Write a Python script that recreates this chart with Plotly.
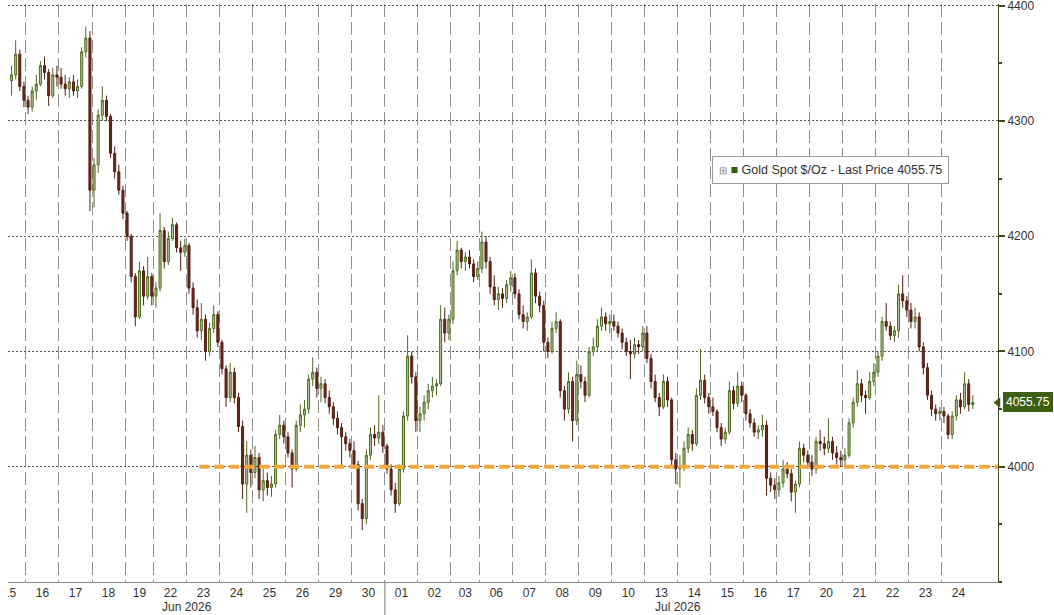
import plotly.graph_objects as go

# ---------------- data (3-hour candles, Gold Spot $/Oz) ----------------
DAY_LABELS = ["15", "16", "17", "18", "19", "22", "23", "24", "25", "26", "29", "30",
              "01", "02", "03", "06", "07", "08", "09", "10",
              "13", "14", "15", "16", "17", "20", "21", "22", "23", "24"]
DAY_BARS = [4, 8, 8, 8, 7, 8, 8, 8, 8, 8, 8, 8,
            8, 8, 7, 8, 8, 8, 8, 8,
            8, 8, 8, 8, 8, 8, 8, 8, 8, 8]
FULL_DAY_BARS = 8
MONTH_LABELS = ["Jun 2026", "Jul 2026"]
MONTH_LABEL_DAY = [6, 21]          # label sits at the start of this day (Jun 23, Jul 14)
MONTH_SPLIT_DAY = 12               # first day of July

OPEN = [
    4335, 4340, 4358, 4330,
    4318, 4312, 4326, 4332, 4348, 4342, 4322, 4340,
    4338, 4332, 4328, 4334, 4326, 4330, 4360, 4372,
    4240, 4262, 4305, 4318, 4304, 4272, 4256, 4240,
    4220, 4200, 4165, 4130, 4170, 4148, 4165,
    4148, 4155, 4205, 4178, 4198, 4210, 4190, 4186,
    4192, 4155, 4138, 4118, 4128, 4100, 4120, 4132,
    4108, 4085, 4060, 4082, 4060, 4035, 3985, 4010,
    3995, 4008, 3980, 3988, 3982, 3985, 4028, 4036,
    4026, 4012, 3998, 4036, 4045, 4050, 4076, 4082,
    4068, 4072, 4060, 4052, 4042, 4034, 4026, 4020,
    4014, 4002, 3968, 3955, 4010, 4028, 4025, 4030,
    4018, 3998, 3980, 3968, 3998, 4044, 4096, 4078,
    4040, 4046, 4056, 4066, 4070, 4072, 4128, 4116,
    4128, 4170, 4188, 4178, 4182, 4176, 4165,
    4172, 4195, 4178, 4156, 4145, 4150, 4146, 4158,
    4164, 4150, 4132, 4126, 4130, 4168, 4148, 4140,
    4108, 4100, 4120, 4126, 4066, 4050, 4074, 4040,
    4080, 4074, 4062, 4100, 4104, 4122, 4130, 4124,
    4126, 4122, 4116, 4108, 4100, 4098, 4106, 4104,
    4116, 4094, 4074, 4060, 4052, 4074, 4058, 4006,
    3998, 4000, 4016, 4028, 4020, 4062, 4075, 4060,
    4052, 4048, 4034, 4024, 4030, 4066, 4055, 4070,
    4062, 4046, 4038, 4030, 4032, 4036, 3990, 3984,
    3980, 3986, 3998, 3994, 3978, 3985, 4016, 4010,
    4004, 3998, 4022, 4020, 4016, 4022, 4012, 4008,
    4006, 4010, 4038, 4056, 4072, 4062, 4060, 4074,
    4082, 4096, 4126, 4122, 4114, 4118, 4150, 4144,
    4136, 4126, 4130, 4104, 4086, 4062, 4050, 4046,
    4048, 4044, 4028, 4044, 4058, 4052, 4072, 4054,
]
HIGH = [
    4348, 4370, 4362, 4334,
    4322, 4330, 4340, 4352, 4356, 4345, 4346, 4348,
    4346, 4340, 4338, 4340, 4336, 4364, 4382, 4378,
    4268, 4310, 4330, 4322, 4306, 4278, 4262, 4244,
    4222, 4202, 4168, 4178, 4174, 4182, 4168,
    4160, 4220, 4208, 4204, 4216, 4212, 4196, 4198,
    4194, 4160, 4145, 4142, 4132, 4125, 4140, 4135,
    4110, 4088, 4090, 4086, 4064, 4040, 4022, 4015,
    4018, 4012, 3998, 3995, 3992, 4032, 4045, 4040,
    4030, 4015, 4040, 4054, 4058, 4080, 4095, 4086,
    4078, 4076, 4066, 4056, 4048, 4038, 4030, 4024,
    4022, 4005, 3972, 4015, 4034, 4036, 4062, 4036,
    4020, 4002, 3986, 4002, 4048, 4114, 4100, 4082,
    4052, 4062, 4072, 4078, 4076, 4140, 4138, 4132,
    4178, 4196, 4190, 4186, 4188, 4180, 4178,
    4204, 4200, 4182, 4166, 4156, 4155, 4162, 4170,
    4168, 4154, 4140, 4134, 4180, 4172, 4152, 4144,
    4112, 4126, 4134, 4128, 4070, 4082, 4078, 4092,
    4088, 4078, 4104, 4112, 4128, 4138, 4134, 4132,
    4132, 4126, 4120, 4112, 4110, 4112, 4110, 4122,
    4122, 4098, 4080, 4064, 4080, 4078, 4060, 4012,
    4010, 4022, 4034, 4032, 4068, 4102, 4080, 4064,
    4060, 4050, 4038, 4034, 4074, 4070, 4082, 4074,
    4064, 4050, 4042, 4036, 4045, 4040, 3995, 3990,
    3992, 4006, 4004, 3998, 3988, 4022, 4020, 4014,
    4010, 4026, 4032, 4026, 4042, 4026, 4018, 4014,
    4016, 4042, 4060, 4084, 4076, 4066, 4082, 4090,
    4100, 4130, 4142, 4126, 4122, 4158, 4166, 4148,
    4142, 4138, 4134, 4108, 4090, 4066, 4054, 4052,
    4052, 4046, 4048, 4062, 4064, 4082, 4076, 4062,
]
LOW = [
    4322, 4336, 4326, 4312,
    4306, 4308, 4318, 4330, 4336, 4313, 4320, 4330,
    4328, 4322, 4320, 4322, 4320, 4328, 4355, 4222,
    4225, 4255, 4300, 4300, 4268, 4250, 4236, 4215,
    4196, 4160, 4122, 4128, 4140, 4145, 4140,
    4138, 4152, 4172, 4175, 4196, 4186, 4170, 4182,
    4150, 4132, 4112, 4110, 4092, 4096, 4116, 4104,
    4080, 4052, 4056, 4055, 4030, 3972, 3960, 3982,
    3990, 3972, 3970, 3975, 3974, 3982, 4024, 4020,
    4008, 3982, 3996, 4030, 4034, 4046, 4070, 4060,
    4056, 4055, 4046, 4036, 4028, 4000, 4014, 4008,
    3998, 3962, 3945, 3950, 4006, 4018, 4020, 4012,
    3994, 3975, 3960, 3966, 3995, 4040, 4072, 4030,
    4030, 4040, 4050, 4060, 4062, 4070, 4108, 4110,
    4124, 4166, 4172, 4170, 4172, 4160, 4162,
    4168, 4172, 4150, 4140, 4136, 4138, 4142, 4152,
    4146, 4128, 4120, 4118, 4128, 4142, 4134, 4100,
    4094, 4098, 4116, 4060, 4040, 4046, 4022, 4036,
    4068, 4056, 4060, 4096, 4100, 4118, 4118, 4116,
    4118, 4112, 4102, 4096, 4076, 4094, 4098, 4100,
    4090, 4068, 4056, 4044, 4050, 4052, 4000, 3985,
    3982, 3996, 4012, 4014, 4018, 4058, 4055, 4046,
    4044, 4030, 4018, 4020, 4028, 4050, 4052, 4056,
    4040, 4034, 4026, 4024, 4026, 3975, 3978, 3972,
    3974, 3982, 3990, 3970, 3960, 3982, 4004, 3998,
    3992, 3994, 4014, 4010, 4012, 4006, 4002, 4000,
    4000, 4008, 4034, 4052, 4056, 4046, 4058, 4070,
    4078, 4092, 4118, 4110, 4108, 4112, 4138, 4130,
    4120, 4120, 4100, 4080, 4058, 4044, 4040, 4040,
    4038, 4024, 4024, 4040, 4046, 4050, 4048, 4050,
]
CLOSE = [
    4340, 4358, 4330, 4318,
    4312, 4326, 4332, 4348, 4342, 4322, 4340, 4338,
    4332, 4328, 4334, 4326, 4330, 4360, 4372, 4240,
    4262, 4305, 4318, 4304, 4272, 4256, 4240, 4220,
    4200, 4165, 4130, 4170, 4148, 4165, 4148,
    4155, 4205, 4178, 4198, 4210, 4190, 4186, 4192,
    4155, 4138, 4118, 4128, 4100, 4120, 4132, 4108,
    4085, 4060, 4082, 4060, 4035, 3985, 4010, 3995,
    4008, 3980, 3988, 3982, 3985, 4028, 4036, 4026,
    4012, 3998, 4036, 4045, 4050, 4076, 4082, 4068,
    4072, 4060, 4052, 4042, 4034, 4026, 4020, 4014,
    4002, 3968, 3955, 4010, 4028, 4025, 4030, 4018,
    3998, 3980, 3968, 3998, 4044, 4096, 4078, 4040,
    4046, 4056, 4066, 4070, 4072, 4128, 4116, 4128,
    4170, 4188, 4178, 4182, 4176, 4165, 4172,
    4195, 4178, 4156, 4145, 4150, 4146, 4158, 4164,
    4150, 4132, 4126, 4130, 4168, 4148, 4140, 4108,
    4100, 4120, 4126, 4066, 4050, 4074, 4040, 4080,
    4074, 4062, 4100, 4104, 4122, 4130, 4124, 4126,
    4122, 4116, 4108, 4100, 4098, 4106, 4104, 4116,
    4094, 4074, 4060, 4052, 4074, 4058, 4006, 3998,
    4000, 4016, 4028, 4020, 4062, 4075, 4060, 4052,
    4048, 4034, 4024, 4030, 4066, 4055, 4070, 4062,
    4046, 4038, 4030, 4032, 4036, 3990, 3984, 3980,
    3986, 3998, 3994, 3978, 3985, 4016, 4010, 4004,
    3998, 4022, 4020, 4016, 4022, 4012, 4008, 4006,
    4010, 4038, 4056, 4072, 4062, 4060, 4074, 4082,
    4096, 4126, 4122, 4114, 4118, 4150, 4144, 4136,
    4126, 4130, 4104, 4086, 4062, 4050, 4046, 4048,
    4044, 4028, 4044, 4058, 4052, 4072, 4054, 4055.75,
]

SERIES_NAME = "Gold Spot $/Oz - Last Price"
SUPPORT_LEVEL = 4000
SUPPORT_FROM_BAR = 46
Y_TICKS = [4000, 4100, 4200, 4300, 4400]
Y_RANGE = [3900, 4401.5]

# ---------------- derived positions ----------------
bar_x = list(range(len(CLOSE)))
starts = []
s = 0
for n in DAY_BARS:
    starts.append(s)
    s += n
boundaries = [st - 0.5 for st in starts[1:]]          # between days
centers = []
for i, (st, n) in enumerate(zip(starts, DAY_BARS)):
    if i == 0:   # truncated first session: centre of a full session ending at its boundary
        centers.append(st + n - 0.5 - FULL_DAY_BARS / 2)
    else:
        centers.append(st + (n - 1) / 2)

x_min = -0.86
x_max = bar_x[-1] + 6.1
last_price = CLOSE[-1]

FONT = "Liberation Sans, Arial, sans-serif"
UP_LINE, UP_FILL = "#4d6b1c", "#b7c39c"
DN_LINE, DN_FILL = "#541d12", "#6c2918"
AXIS_GREEN = "#3b4a1a"
TAG_GREEN = "#3d5f12"

fig = go.Figure()

fig.add_trace(go.Candlestick(
    x=bar_x, open=OPEN, high=HIGH, low=LOW, close=CLOSE,
    name=SERIES_NAME,
    increasing=dict(line=dict(color=UP_LINE, width=1), fillcolor=UP_FILL),
    decreasing=dict(line=dict(color=DN_LINE, width=1), fillcolor=DN_FILL),
    whiskerwidth=0, showlegend=False, hoverinfo="skip",
))

fig.add_trace(go.Scatter(
    x=[SUPPORT_FROM_BAR - 0.5, x_max], y=[SUPPORT_LEVEL, SUPPORT_LEVEL],
    mode="lines", line=dict(color="#f2a93b", width=4, dash="10px,5px"),
    showlegend=False, hoverinfo="skip",
))

# last price pointer on the right axis
fig.add_trace(go.Scatter(
    x=[x_max], y=[last_price], mode="markers",
    marker=dict(symbol="triangle-left", size=9, color=TAG_GREEN),
    cliponaxis=False, showlegend=False, hoverinfo="skip",
))

fig.update_layout(
    width=1054, height=615,
    margin=dict(l=8, r=56, t=4, b=33),
    paper_bgcolor="white", plot_bgcolor="white",
    font=dict(family=FONT, size=12, color="#333333"),
    boxgap=0.3, boxgroupgap=0.3,
    showlegend=False,
    xaxis=dict(
        range=[x_min, x_max], rangeslider=dict(visible=False),
        tickmode="array", tickvals=centers, ticktext=DAY_LABELS,
        ticks="", showgrid=False, zeroline=False,
        showline=True, linecolor="#8a8a8a", linewidth=1,
        tickfont=dict(family=FONT, size=12, color="#333333"),
        minor=dict(tickmode="array", tickvals=boundaries, showgrid=True,
                   gridcolor="#8f8f8f", gridwidth=1, griddash="13px,5px", ticks=""),
        fixedrange=True,
    ),
    yaxis=dict(
        range=Y_RANGE, side="right",
        tickmode="array", tickvals=Y_TICKS, ticktext=[str(v) for v in Y_TICKS],
        ticks="outside", ticklen=6, tickwidth=2, tickcolor=AXIS_GREEN,
        ticklabeloverflow="allow",
        showgrid=True, gridcolor="#555555", gridwidth=1, griddash="2px,2px",
        zeroline=False, showline=True, linecolor=AXIS_GREEN, linewidth=1,
        tickfont=dict(family=FONT, size=12, color="#333333"),
        minor=dict(dtick=50, ticks="outside", ticklen=3, tickcolor=AXIS_GREEN,
                   showgrid=False),
        automargin=False, fixedrange=True,
    ),
)

# month labels
for lab, d in zip(MONTH_LABELS, MONTH_LABEL_DAY):
    fig.add_annotation(x=starts[d] - 0.5, xref="x", y=-0.0433, yref="paper",
                       text=lab, showarrow=False, xanchor="center", yanchor="middle",
                       font=dict(family=FONT, size=12, color="#333333"))

# month separator below axis
fig.add_shape(type="line", xref="x", yref="paper",
              x0=starts[MONTH_SPLIT_DAY] - 0.5, x1=starts[MONTH_SPLIT_DAY] - 0.5,
              y0=-0.06, y1=0, line=dict(color="#777777", width=1))

# hide the part of the first (truncated) day label that falls outside the frame
fig.add_shape(type="rect", xref="paper", yref="paper", x0=-0.02, x1=0,
              y0=-0.06, y1=-0.001, fillcolor="white", line=dict(width=0), layer="above")

# legend box
fig.add_annotation(
    x=0.711, xref="paper", y=0.712, yref="paper", xanchor="left", yanchor="middle",
    text=("<span style='color:#888888;font-size:10px'>⊞</span> "
          "<span style='color:#2f5d0c'>■</span> "
          f"{SERIES_NAME} {last_price:.2f}"),
    showarrow=False, bgcolor="white", bordercolor="#9a9a9a", borderwidth=1, borderpad=6,
    font=dict(family=FONT, size=12.5, color="#333333"),
)

# last price tag
fig.add_annotation(
    x=1, xref="paper", y=last_price, yref="y", xanchor="left", yanchor="middle",
    xshift=5, text=f"{last_price:.2f}", showarrow=False,
    bgcolor=TAG_GREEN, bordercolor=TAG_GREEN, borderpad=2,
    font=dict(family=FONT, size=12, color="white"),
)

fig.write_html(
    "out.html",
    config={"displayModeBar": False},
    post_script="document.body.style.margin='0';document.body.style.overflow='hidden';",
)
